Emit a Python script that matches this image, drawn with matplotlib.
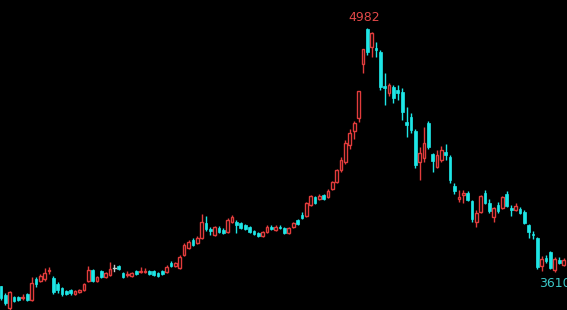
import matplotlib
matplotlib.use("Agg")
import matplotlib.pyplot as plt
from matplotlib.patches import Rectangle
import numpy as np

# daily bars
opens = [3531, 3481, 3408, 3469, 3469, 3464, 3486, 3452, 3570, 3559,
         3570, 3616, 3576, 3542, 3520, 3503, 3509, 3486, 3497, 3509,
         3559, 3621, 3559, 3616, 3582, 3593, 3632, 3644, 3604, 3593,
         3587, 3616, 3610, 3610, 3616, 3616, 3604, 3616, 3610, 3661,
         3644, 3632, 3706, 3745, 3790, 3773, 3801, 3885, 3852, 3818,
         3857, 3846, 3835, 3891, 3891, 3885, 3874, 3863, 3840, 3829,
         3812, 3835, 3863, 3846, 3863, 3857, 3829, 3863, 3902, 3930,
         3925, 3987, 4032, 4020, 4043, 4032, 4077, 4116, 4183, 4229,
         4324, 4403, 4476, 4780, 4975, 4875, 4869, 4847, 4656, 4616,
         4650, 4633, 4622, 4453, 4482, 4403, 4229, 4251, 4448, 4273,
         4200, 4240, 4285, 4257, 4094, 4020, 4043, 4054, 4009, 3891,
         3947, 4054, 3998, 3919, 3987, 3970, 4049, 3970, 3959, 3964,
         3947, 3874, 3824, 3801, 3644, 3689, 3722, 3621, 3677, 3649]
highs = [3531, 3492, 3503, 3475, 3475, 3486, 3492, 3582, 3582, 3599,
         3632, 3638, 3587, 3554, 3526, 3509, 3514, 3509, 3514, 3548,
         3644, 3627, 3587, 3621, 3610, 3666, 3649, 3649, 3610, 3616,
         3610, 3621, 3638, 3632, 3621, 3621, 3610, 3621, 3649, 3672,
         3666, 3706, 3773, 3790, 3801, 3812, 3936, 3925, 3863, 3869,
         3869, 3857, 3914, 3930, 3902, 3891, 3880, 3869, 3846, 3835,
         3840, 3874, 3874, 3874, 3874, 3863, 3863, 3891, 3908, 3947,
         4004, 4043, 4037, 4049, 4049, 4077, 4122, 4189, 4257, 4352,
         4414, 4459, 4628, 4864, 4982, 4959, 4903, 4858, 4729, 4673,
         4661, 4661, 4645, 4538, 4504, 4414, 4313, 4425, 4459, 4279,
         4296, 4318, 4330, 4268, 4110, 4071, 4071, 4065, 4015, 3959,
         4043, 4071, 4020, 3976, 4004, 4037, 4065, 3987, 3998, 3976,
         3959, 3880, 3840, 3807, 3700, 3706, 3728, 3694, 3694, 3689]
lows = [3452, 3424, 3396, 3441, 3447, 3452, 3447, 3447, 3526, 3554,
        3559, 3599, 3486, 3492, 3475, 3481, 3481, 3481, 3492, 3503,
        3554, 3554, 3554, 3576, 3576, 3587, 3616, 3621, 3576, 3582,
        3582, 3593, 3604, 3604, 3593, 3587, 3582, 3593, 3604, 3638,
        3638, 3627, 3700, 3739, 3756, 3767, 3796, 3840, 3818, 3812,
        3829, 3824, 3829, 3885, 3829, 3852, 3846, 3829, 3818, 3807,
        3807, 3829, 3846, 3840, 3852, 3824, 3824, 3857, 3874, 3908,
        3919, 3981, 3992, 4015, 4015, 4026, 4071, 4110, 4172, 4217,
        4302, 4358, 4453, 4729, 4830, 4819, 4819, 4633, 4549, 4600,
        4560, 4577, 4465, 4369, 4392, 4195, 4127, 4229, 4302, 4172,
        4195, 4229, 4240, 4110, 4049, 4004, 3998, 4009, 3891, 3863,
        3942, 3992, 3942, 3891, 3942, 3964, 3976, 3925, 3953, 3936,
        3880, 3801, 3796, 3627, 3616, 3661, 3627, 3610, 3655, 3644]
closes = [3464, 3436, 3497, 3447, 3452, 3469, 3452, 3548, 3542, 3587,
          3604, 3621, 3497, 3509, 3486, 3486, 3492, 3503, 3509, 3542,
          3621, 3559, 3582, 3582, 3604, 3627, 3632, 3627, 3582, 3599,
          3604, 3599, 3616, 3616, 3599, 3593, 3587, 3599, 3638, 3644,
          3661, 3694, 3762, 3779, 3762, 3801, 3891, 3852, 3840, 3863,
          3835, 3829, 3902, 3919, 3874, 3857, 3852, 3835, 3824, 3812,
          3835, 3863, 3852, 3863, 3857, 3829, 3857, 3885, 3880, 3914,
          3998, 4037, 3998, 4037, 4020, 4065, 4116, 4183, 4240, 4335,
          4392, 4448, 4628, 4864, 4847, 4954, 4858, 4650, 4645, 4661,
          4588, 4616, 4510, 4437, 4408, 4212, 4279, 4335, 4313, 4234,
          4268, 4296, 4268, 4127, 4065, 4032, 4054, 4015, 3908, 3942,
          4037, 3998, 3953, 3970, 3953, 4032, 3981, 3959, 3981, 3942,
          3885, 3835, 3818, 3638, 3683, 3672, 3632, 3683, 3661, 3677]

UP = "#e23c3c"
DOWN = "#1ee6e6"
DOJI = "#c8c8c8"

o = np.array(opens, float)
h = np.array(highs, float)
l = np.array(lows, float)
c = np.array(closes, float)
n = len(o)

fig = plt.figure(figsize=(5.67, 3.10), dpi=100, facecolor="black")
ax = fig.add_axes([0, 0, 1, 1])
ax.set_facecolor("black")

w = 0.62
lw = 1.0
for i in range(n):
    top = max(o[i], c[i])
    bot = min(o[i], c[i])
    if c[i] > o[i]:
        # hollow red body, wick stops at the body
        ax.plot([i, i], [top, h[i]], color=UP, lw=lw, solid_capstyle="butt")
        ax.plot([i, i], [l[i], bot], color=UP, lw=lw, solid_capstyle="butt")
        ax.add_patch(Rectangle((i - w / 2, bot), w, top - bot, fill=False,
                               edgecolor=UP, lw=lw))
    elif c[i] < o[i]:
        ax.plot([i, i], [l[i], h[i]], color=DOWN, lw=lw, solid_capstyle="butt")
        ax.add_patch(Rectangle((i - w / 2, bot), w, top - bot,
                               facecolor=DOWN, edgecolor=DOWN, lw=0.5))
    else:
        ax.plot([i, i], [l[i], h[i]], color=DOJI, lw=lw)
        ax.plot([i - w / 2, i + w / 2], [o[i], o[i]], color=DOJI, lw=lw)

# extreme labels
hi = int(np.argmax(h))
ax.annotate(f"{h[hi]:.0f}", xy=(hi, h[hi]), xytext=(-2, 3),
            textcoords="offset points", ha="center", va="bottom",
            color="#e04848", fontsize=9)
lo = hi + int(np.argmin(l[hi:]))
ax.annotate(f"{l[lo]:.0f}", xy=(lo, l[lo]), xytext=(0, -4),
            textcoords="offset points", ha="center", va="top",
            color="#3cc8c8", fontsize=9)

ax.set_xlim(-0.23, 129.8)
ax.set_ylim(3396, 5139)
ax.axis("off")

fig.savefig("out.png", dpi=100, facecolor="black")
